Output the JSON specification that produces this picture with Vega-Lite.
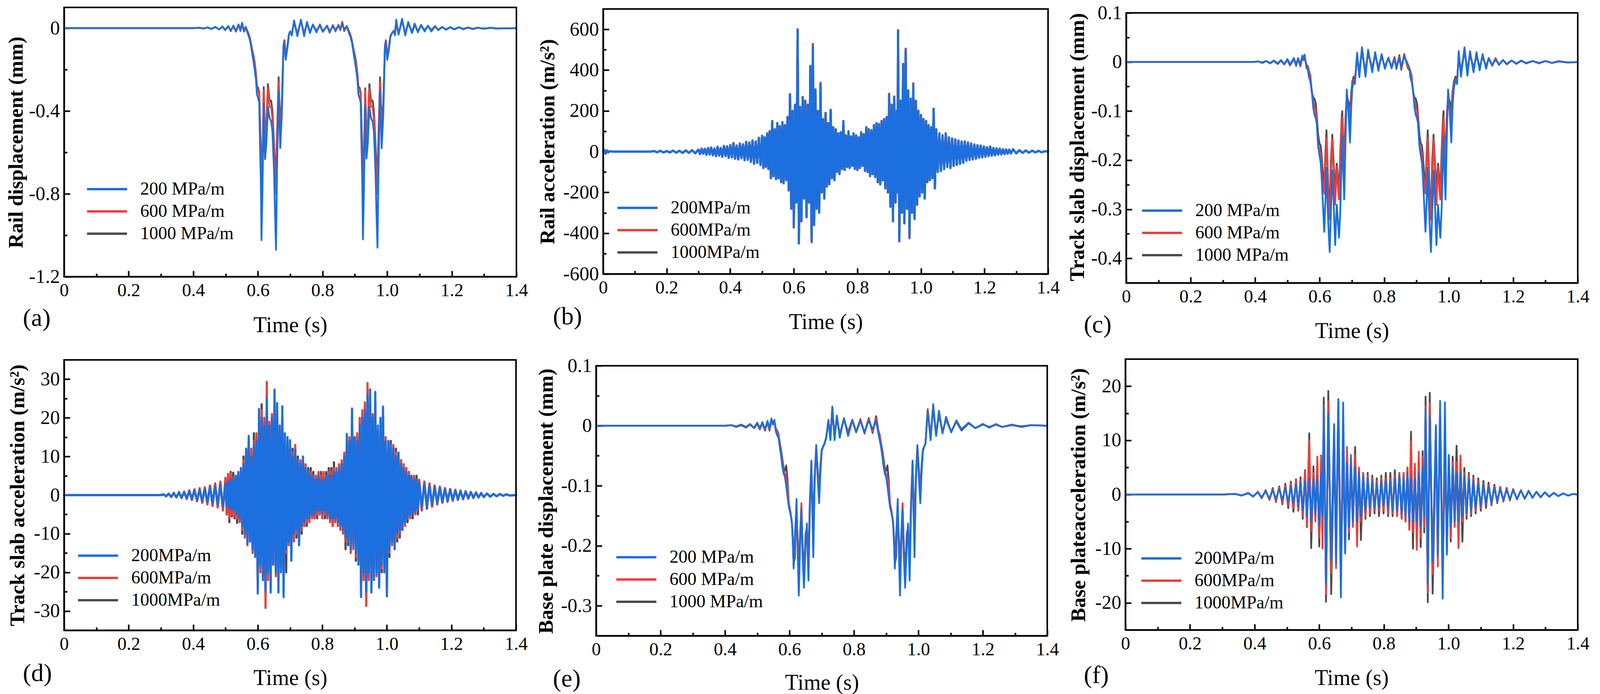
{
  "$schema": "https://vega.github.io/schema/vega-lite/v6.json",
  "width": 4255,
  "height": 1776,
  "autosize": {"type": "none"},
  "padding": 0,
  "background": "#ffffff",
  "config": {
    "view": {"stroke": null},
    "font": "Liberation Serif",
    "axis": {"labelFont": "Liberation Serif", "labelColor": "#000000", "titleFont": "Liberation Serif", "titleColor": "#000000", "domainColor": "#000000", "domainWidth": 4, "tickColor": "#000000", "tickWidth": 4, "grid": false, "labelFlush": false, "labelOverlap": false, "labelBound": false, "titleAlign": "center"},
    "axisX": {"labelFontSize": 47, "labelPadding": 27, "labelBaseline": "top", "labelAngle": 0, "titleFontSize": 56, "titleFontWeight": "normal", "titleBaseline": "alphabetic"},
    "axisY": {"labelFontSize": 50, "labelPadding": 26, "titleFontSize": 53, "titleFontWeight": "bold", "titleBaseline": "alphabetic", "titleAngle": -90},
    "legend": {"orient": "none", "padding": 0, "labelFont": "Liberation Serif", "labelFontSize": 46, "labelColor": "#000000", "labelLimit": 0, "symbolType": "M-5,0L5,0", "symbolSize": 420, "symbolStrokeWidth": 6, "rowPadding": 11, "labelOffset": 62}
  },
  "datasets": {
    "a": [
      {"t":0,"c200":0,"b600":0,"a1000":0},{"t":0.4,"c200":0,"b600":0,"a1000":0},{"t":0.42,"c200":0.002,"b600":0.002,"a1000":0.001},{"t":0.432,"c200":-0.002,"b600":-0.002,"a1000":-0.002},{"t":0.444,"c200":0.004,"b600":0.003,"a1000":0.003},{"t":0.456,"c200":-0.004,"b600":-0.004,"a1000":-0.004},{"t":0.468,"c200":0.006,"b600":0.005,"a1000":0.005},{"t":0.48,"c200":-0.006,"b600":-0.006,"a1000":-0.006},{"t":0.49,"c200":0.008,"b600":0.007,"a1000":0.007},{"t":0.499,"c200":-0.008,"b600":-0.009,"a1000":-0.009},{"t":0.508,"c200":0.01,"b600":0.01,"a1000":0.009},{"t":0.516,"c200":-0.012,"b600":-0.014,"a1000":-0.014},{"t":0.524,"c200":0.01,"b600":0.012,"a1000":0.012},{"t":0.532,"c200":-0.014,"b600":-0.016,"a1000":-0.017},{"t":0.54,"c200":0.018,"b600":0.016,"a1000":0.015},{"t":0.546,"c200":-0.006,"b600":-0.012,"a1000":-0.014},{"t":0.551,"c200":0.026,"b600":0.022,"a1000":0.02},{"t":0.557,"c200":-0.016,"b600":-0.016,"a1000":-0.016},{"t":0.562,"c200":0.004,"b600":0.006,"a1000":0.006},{"t":0.567,"c200":-0.02,"b600":-0.014,"a1000":-0.012},{"t":0.572,"c200":-0.04,"b600":-0.032,"a1000":-0.03},{"t":0.577,"c200":-0.07,"b600":-0.062,"a1000":-0.06},{"t":0.581,"c200":-0.11,"b600":-0.1,"a1000":-0.095},{"t":0.586,"c200":-0.16,"b600":-0.14,"a1000":-0.13},{"t":0.59,"c200":-0.2,"b600":-0.175,"a1000":-0.165},{"t":0.594,"c200":-0.25,"b600":-0.23,"a1000":-0.22},{"t":0.597,"c200":-0.32,"b600":-0.29,"a1000":-0.28},{"t":0.601,"c200":-0.34,"b600":-0.3,"a1000":-0.29},{"t":0.604,"c200":-0.36,"b600":-0.32,"a1000":-0.31},{"t":0.606,"c200":-0.53,"b600":-0.45,"a1000":-0.42},{"t":0.609,"c200":-0.74,"b600":-0.62,"a1000":-0.57},{"t":0.611,"c200":-1.024,"b600":-0.87,"a1000":-0.8},{"t":0.614,"c200":-0.79,"b600":-0.7,"a1000":-0.65},{"t":0.618,"c200":-0.366,"b600":-0.3,"a1000":-0.285},{"t":0.622,"c200":-0.633,"b600":-0.56,"a1000":-0.54},{"t":0.626,"c200":-0.56,"b600":-0.48,"a1000":-0.46},{"t":0.631,"c200":-0.381,"b600":-0.29,"a1000":-0.27},{"t":0.636,"c200":-0.435,"b600":-0.38,"a1000":-0.35},{"t":0.641,"c200":-0.45,"b600":-0.38,"a1000":-0.35},{"t":0.645,"c200":-0.5,"b600":-0.44,"a1000":-0.4},{"t":0.65,"c200":-0.7,"b600":-0.6,"a1000":-0.56},{"t":0.653,"c200":-0.9,"b600":-0.72,"a1000":-0.66},{"t":0.656,"c200":-1.07,"b600":-0.8,"a1000":-0.73},{"t":0.659,"c200":-0.7,"b600":-0.56,"a1000":-0.52},{"t":0.664,"c200":-0.305,"b600":-0.26,"a1000":-0.237},{"t":0.669,"c200":-0.579,"b600":-0.5,"a1000":-0.47},{"t":0.674,"c200":-0.42,"b600":-0.38,"a1000":-0.36},{"t":0.679,"c200":-0.1,"b600":-0.09,"a1000":-0.085},{"t":0.682,"c200":-0.066,"b600":-0.06,"a1000":-0.058},{"t":0.686,"c200":-0.153,"b600":-0.14,"a1000":-0.135},{"t":0.691,"c200":-0.1,"b600":-0.09,"a1000":-0.09},{"t":0.696,"c200":-0.031,"b600":-0.03,"a1000":-0.028},{"t":0.7,"c200":-0.016,"b600":-0.018,"a1000":-0.02},{"t":0.705,"c200":-0.035,"b600":-0.03,"a1000":-0.028},{"t":0.712,"c200":0.037,"b600":0.032,"a1000":0.03},{"t":0.722,"c200":-0.039,"b600":-0.03,"a1000":-0.028},{"t":0.733,"c200":0.041,"b600":0.036,"a1000":0.034},{"t":0.743,"c200":-0.039,"b600":-0.028,"a1000":-0.026},{"t":0.752,"c200":0.03,"b600":0.026,"a1000":0.025},{"t":0.761,"c200":-0.024,"b600":-0.02,"a1000":-0.018},{"t":0.77,"c200":0.018,"b600":0.016,"a1000":0.014},{"t":0.781,"c200":-0.02,"b600":-0.014,"a1000":-0.012},{"t":0.792,"c200":0.018,"b600":0.014,"a1000":0.013},{"t":0.801,"c200":-0.016,"b600":-0.016,"a1000":-0.018},{"t":0.814,"c200":0.01,"b600":0.012,"a1000":0.012},{"t":0.822,"c200":-0.016,"b600":-0.02,"a1000":-0.022},{"t":0.832,"c200":0.01,"b600":0.014,"a1000":0.015},{"t":0.84,"c200":-0.008,"b600":-0.014,"a1000":-0.016},{"t":0.849,"c200":0.008,"b600":0.014,"a1000":0.016},{"t":0.855,"c200":-0.001,"b600":-0.008,"a1000":-0.01},{"t":0.861,"c200":0.022,"b600":0.026,"a1000":0.03},{"t":0.867,"c200":-0.005,"b600":-0.01,"a1000":-0.014},{"t":0.875,"c200":0.008,"b600":0.01,"a1000":0.01},{"t":0.881,"c200":-0.02,"b600":-0.014,"a1000":-0.012},{"t":0.886,"c200":-0.04,"b600":-0.032,"a1000":-0.03},{"t":0.891,"c200":-0.07,"b600":-0.062,"a1000":-0.06},{"t":0.895,"c200":-0.11,"b600":-0.1,"a1000":-0.095},{"t":0.9,"c200":-0.16,"b600":-0.14,"a1000":-0.13},{"t":0.904,"c200":-0.2,"b600":-0.175,"a1000":-0.165},{"t":0.908,"c200":-0.25,"b600":-0.23,"a1000":-0.22},{"t":0.911,"c200":-0.32,"b600":-0.29,"a1000":-0.28},{"t":0.915,"c200":-0.34,"b600":-0.3,"a1000":-0.29},{"t":0.918,"c200":-0.36,"b600":-0.32,"a1000":-0.31},{"t":0.92,"c200":-0.53,"b600":-0.45,"a1000":-0.42},{"t":0.923,"c200":-0.74,"b600":-0.62,"a1000":-0.57},{"t":0.925,"c200":-1.02,"b600":-0.86,"a1000":-0.8},{"t":0.928,"c200":-0.79,"b600":-0.7,"a1000":-0.65},{"t":0.932,"c200":-0.37,"b600":-0.3,"a1000":-0.29},{"t":0.936,"c200":-0.63,"b600":-0.56,"a1000":-0.54},{"t":0.94,"c200":-0.56,"b600":-0.48,"a1000":-0.46},{"t":0.945,"c200":-0.38,"b600":-0.29,"a1000":-0.27},{"t":0.95,"c200":-0.435,"b600":-0.38,"a1000":-0.35},{"t":0.955,"c200":-0.45,"b600":-0.38,"a1000":-0.35},{"t":0.959,"c200":-0.5,"b600":-0.44,"a1000":-0.4},{"t":0.964,"c200":-0.7,"b600":-0.6,"a1000":-0.56},{"t":0.967,"c200":-0.9,"b600":-0.72,"a1000":-0.66},{"t":0.97,"c200":-1.06,"b600":-0.8,"a1000":-0.73},{"t":0.973,"c200":-0.7,"b600":-0.56,"a1000":-0.52},{"t":0.978,"c200":-0.3,"b600":-0.26,"a1000":-0.237},{"t":0.983,"c200":-0.58,"b600":-0.5,"a1000":-0.47},{"t":0.988,"c200":-0.42,"b600":-0.38,"a1000":-0.36},{"t":0.993,"c200":-0.1,"b600":-0.09,"a1000":-0.085},{"t":0.996,"c200":-0.066,"b600":-0.06,"a1000":-0.058},{"t":1,"c200":-0.153,"b600":-0.14,"a1000":-0.135},{"t":1.005,"c200":-0.11,"b600":-0.1,"a1000":-0.095},{"t":1.01,"c200":-0.04,"b600":-0.04,"a1000":-0.038},{"t":1.016,"c200":-0.02,"b600":-0.022,"a1000":-0.022},{"t":1.021,"c200":-0.016,"b600":-0.014,"a1000":-0.012},{"t":1.024,"c200":-0.035,"b600":-0.03,"a1000":-0.03},{"t":1.028,"c200":0.041,"b600":0.036,"a1000":0.034},{"t":1.035,"c200":-0.031,"b600":-0.03,"a1000":-0.03},{"t":1.046,"c200":0.045,"b600":0.04,"a1000":0.036},{"t":1.056,"c200":-0.035,"b600":-0.028,"a1000":-0.03},{"t":1.065,"c200":0.03,"b600":0.026,"a1000":0.024},{"t":1.077,"c200":-0.024,"b600":-0.018,"a1000":-0.02},{"t":1.085,"c200":0.022,"b600":0.018,"a1000":0.016},{"t":1.095,"c200":-0.02,"b600":-0.014,"a1000":-0.016},{"t":1.105,"c200":0.016,"b600":0.012,"a1000":0.012},{"t":1.116,"c200":-0.016,"b600":-0.012,"a1000":-0.01},{"t":1.126,"c200":0.012,"b600":0.01,"a1000":0.01},{"t":1.137,"c200":-0.016,"b600":-0.01,"a1000":-0.008},{"t":1.148,"c200":0.008,"b600":0.01,"a1000":0.01},{"t":1.158,"c200":-0.008,"b600":-0.01,"a1000":-0.01},{"t":1.17,"c200":0.006,"b600":0.006,"a1000":0.005},{"t":1.182,"c200":-0.008,"b600":-0.006,"a1000":-0.006},{"t":1.195,"c200":0.005,"b600":0.004,"a1000":0.004},{"t":1.208,"c200":-0.006,"b600":-0.006,"a1000":-0.005},{"t":1.222,"c200":0.004,"b600":0.004,"a1000":0.004},{"t":1.236,"c200":-0.004,"b600":-0.006,"a1000":-0.004},{"t":1.25,"c200":0.003,"b600":0.002,"a1000":0.003},{"t":1.265,"c200":-0.004,"b600":-0.005,"a1000":-0.003},{"t":1.28,"c200":0.002,"b600":0.002,"a1000":0.002},{"t":1.3,"c200":-0.003,"b600":-0.003,"a1000":-0.002},{"t":1.32,"c200":0.002,"b600":0.001,"a1000":0.002},{"t":1.34,"c200":-0.002,"b600":-0.002,"a1000":-0.002},{"t":1.4,"c200":0,"b600":0,"a1000":0}
    ],
    "b": [
      {"t":0,"c200":0,"b600":0,"a1000":0},{"t":0.004,"c200":8,"b600":8,"a1000":8},{"t":0.008,"c200":-10,"b600":-10,"a1000":-10},{"t":0.012,"c200":6,"b600":6,"a1000":6},{"t":0.016,"c200":-4,"b600":-4,"a1000":-4},{"t":0.02,"c200":2,"b600":2,"a1000":2},{"t":0.03,"c200":0,"b600":0,"a1000":0},{"t":0.15,"c200":0,"b600":0,"a1000":0},
      {"t":0.16,"c200":3,"b600":3,"a1000":3},{"t":0.17,"c200":-3,"b600":-3,"a1000":-3},{"t":0.18,"c200":4,"b600":4,"a1000":4},{"t":0.19,"c200":-4,"b600":-4,"a1000":-4},{"t":0.2,"c200":3,"b600":3,"a1000":3},{"t":0.21,"c200":-4,"b600":-4,"a1000":-4},{"t":0.22,"c200":5,"b600":5,"a1000":5},{"t":0.23,"c200":-5,"b600":-5,"a1000":-5},{"t":0.24,"c200":4,"b600":4,"a1000":4},{"t":0.25,"c200":-6,"b600":-6,"a1000":-6},{"t":0.26,"c200":6,"b600":6,"a1000":6},{"t":0.27,"c200":-6,"b600":-6,"a1000":-6},{"t":0.28,"c200":7,"b600":7,"a1000":7},{"t":0.29,"c200":-8,"b600":-8,"a1000":-8},{"t":0.3,"c200":10,"b600":10,"a1000":10},
      {"t":0.305,"c200":-12,"b600":-12,"a1000":-12},{"t":0.31,"c200":15,"b600":15,"a1000":15},{"t":0.315,"c200":-10,"b600":-10,"a1000":-10},{"t":0.32,"c200":14,"b600":14,"a1000":14},{"t":0.325,"c200":-16,"b600":-16,"a1000":-16},{"t":0.33,"c200":18,"b600":18,"a1000":18},{"t":0.335,"c200":-14,"b600":-14,"a1000":-14},{"t":0.34,"c200":20,"b600":20,"a1000":20},{"t":0.345,"c200":-18,"b600":-18,"a1000":-18},{"t":0.35,"c200":15,"b600":15,"a1000":15},{"t":0.355,"c200":-22,"b600":-22,"a1000":-22},{"t":0.36,"c200":24,"b600":24,"a1000":24},{"t":0.365,"c200":-20,"b600":-20,"a1000":-20},{"t":0.37,"c200":18,"b600":18,"a1000":18},{"t":0.375,"c200":-25,"b600":-25,"a1000":-25},{"t":0.38,"c200":28,"b600":28,"a1000":28},{"t":0.385,"c200":-22,"b600":-22,"a1000":-22},{"t":0.39,"c200":26,"b600":26,"a1000":26},{"t":0.395,"c200":-30,"b600":-30,"a1000":-30},{"t":0.4,"c200":32,"b600":32,"a1000":32},{"t":0.405,"c200":-28,"b600":-28,"a1000":-28},{"t":0.41,"c200":42,"b600":42,"a1000":42},{"t":0.415,"c200":-35,"b600":-35,"a1000":-35},{"t":0.42,"c200":30,"b600":30,"a1000":30},{"t":0.425,"c200":-38,"b600":-38,"a1000":-38},{"t":0.43,"c200":40,"b600":40,"a1000":40},{"t":0.435,"c200":-32,"b600":-32,"a1000":-32},{"t":0.44,"c200":36,"b600":36,"a1000":36},{"t":0.445,"c200":-42,"b600":-42,"a1000":-42},{"t":0.45,"c200":48,"b600":48,"a1000":48},{"t":0.455,"c200":-40,"b600":-40,"a1000":-40},{"t":0.46,"c200":45,"b600":45,"a1000":45},{"t":0.465,"c200":-50,"b600":-50,"a1000":-50},{"t":0.47,"c200":55,"b600":55,"a1000":55},{"t":0.475,"c200":-60,"b600":-60,"a1000":-60},{"t":0.48,"c200":50,"b600":50,"a1000":50},{"t":0.485,"c200":-55,"b600":-55,"a1000":-55},{"t":0.49,"c200":68,"b600":68,"a1000":68},{"t":0.495,"c200":-65,"b600":-65,"a1000":-65},{"t":0.5,"c200":78,"b600":78,"a1000":78},
      {"t":0.504,"c200":-80,"b600":-80,"a1000":-80},{"t":0.508,"c200":70,"b600":70,"a1000":70},{"t":0.512,"c200":-75,"b600":-75,"a1000":-75},{"t":0.516,"c200":90,"b600":90,"a1000":90},{"t":0.52,"c200":-85,"b600":-85,"a1000":-85},{"t":0.524,"c200":100,"b600":100,"a1000":100},{"t":0.528,"c200":-130,"b600":-130,"a1000":-130},{"t":0.532,"c200":150,"b600":150,"a1000":150},{"t":0.536,"c200":-120,"b600":-120,"a1000":-120},{"t":0.54,"c200":110,"b600":110,"a1000":110},{"t":0.544,"c200":-135,"b600":-135,"a1000":-135},{"t":0.548,"c200":140,"b600":140,"a1000":140},{"t":0.552,"c200":-130,"b600":-130,"a1000":-130},{"t":0.556,"c200":125,"b600":125,"a1000":125},{"t":0.56,"c200":-150,"b600":-150,"a1000":-150},{"t":0.564,"c200":145,"b600":145,"a1000":145},{"t":0.568,"c200":-155,"b600":-155,"a1000":-155},{"t":0.572,"c200":130,"b600":130,"a1000":130},{"t":0.576,"c200":-140,"b600":-140,"a1000":-140},{"t":0.58,"c200":170,"b600":170,"a1000":170},{"t":0.584,"c200":-190,"b600":-190,"a1000":-190},{"t":0.588,"c200":280,"b600":282,"a1000":282},{"t":0.592,"c200":-280,"b600":-280,"a1000":-280},{"t":0.596,"c200":200,"b600":200,"a1000":200},{"t":0.6,"c200":-370,"b600":-372,"a1000":-372},{"t":0.604,"c200":230,"b600":230,"a1000":230},{"t":0.608,"c200":-250,"b600":-250,"a1000":-250},{"t":0.612,"c200":600,"b600":600,"a1000":600},{"t":0.616,"c200":-450,"b600":-450,"a1000":-450},{"t":0.62,"c200":220,"b600":220,"a1000":220},{"t":0.624,"c200":-340,"b600":-342,"a1000":-342},{"t":0.628,"c200":265,"b600":268,"a1000":268},{"t":0.632,"c200":-230,"b600":-230,"a1000":-230},{"t":0.636,"c200":250,"b600":250,"a1000":250},{"t":0.64,"c200":-320,"b600":-322,"a1000":-322},{"t":0.644,"c200":230,"b600":230,"a1000":230},{"t":0.648,"c200":-250,"b600":-250,"a1000":-250},{"t":0.652,"c200":420,"b600":420,"a1000":420},{"t":0.656,"c200":-440,"b600":-444,"a1000":-444},{"t":0.66,"c200":515,"b600":525,"a1000":528},{"t":0.664,"c200":-360,"b600":-360,"a1000":-360},{"t":0.668,"c200":305,"b600":305,"a1000":305},{"t":0.672,"c200":-280,"b600":-280,"a1000":-280},{"t":0.676,"c200":200,"b600":200,"a1000":200},{"t":0.68,"c200":-300,"b600":-300,"a1000":-300},{"t":0.684,"c200":330,"b600":338,"a1000":336},{"t":0.688,"c200":-200,"b600":-200,"a1000":-200},{"t":0.692,"c200":160,"b600":160,"a1000":160},{"t":0.696,"c200":-230,"b600":-230,"a1000":-230},{"t":0.7,"c200":190,"b600":190,"a1000":190},{"t":0.704,"c200":-170,"b600":-172,"a1000":-172},{"t":0.708,"c200":140,"b600":140,"a1000":140},{"t":0.712,"c200":-160,"b600":-160,"a1000":-160},{"t":0.716,"c200":205,"b600":205,"a1000":205},{"t":0.72,"c200":-130,"b600":-130,"a1000":-130},{"t":0.724,"c200":120,"b600":120,"a1000":120},{"t":0.728,"c200":-140,"b600":-140,"a1000":-140},{"t":0.732,"c200":110,"b600":110,"a1000":110},{"t":0.736,"c200":-100,"b600":-100,"a1000":-100},{"t":0.74,"c200":90,"b600":90,"a1000":90},{"t":0.744,"c200":-110,"b600":-110,"a1000":-110},{"t":0.748,"c200":95,"b600":95,"a1000":95},{"t":0.752,"c200":-85,"b600":-85,"a1000":-85},{"t":0.756,"c200":150,"b600":150,"a1000":150},{"t":0.76,"c200":-90,"b600":-90,"a1000":-90},{"t":0.764,"c200":80,"b600":80,"a1000":80},{"t":0.768,"c200":-75,"b600":-75,"a1000":-75},{"t":0.772,"c200":100,"b600":100,"a1000":100},{"t":0.776,"c200":-80,"b600":-80,"a1000":-80},{"t":0.78,"c200":75,"b600":75,"a1000":75},{"t":0.784,"c200":-70,"b600":-70,"a1000":-70},{"t":0.788,"c200":90,"b600":90,"a1000":90},{"t":0.792,"c200":-85,"b600":-85,"a1000":-85},{"t":0.796,"c200":80,"b600":80,"a1000":80},{"t":0.8,"c200":-90,"b600":-90,"a1000":-90},{"t":0.804,"c200":70,"b600":70,"a1000":70},{"t":0.808,"c200":-80,"b600":-80,"a1000":-80},{"t":0.812,"c200":95,"b600":95,"a1000":95},{"t":0.816,"c200":-70,"b600":-70,"a1000":-70},{"t":0.82,"c200":85,"b600":85,"a1000":85},{"t":0.824,"c200":-95,"b600":-95,"a1000":-95},{"t":0.828,"c200":120,"b600":120,"a1000":120},{"t":0.832,"c200":-100,"b600":-100,"a1000":-100},{"t":0.836,"c200":110,"b600":110,"a1000":110},{"t":0.84,"c200":-120,"b600":-120,"a1000":-120},{"t":0.844,"c200":105,"b600":105,"a1000":105},{"t":0.848,"c200":-110,"b600":-110,"a1000":-110},{"t":0.852,"c200":130,"b600":130,"a1000":130},{"t":0.856,"c200":-125,"b600":-125,"a1000":-125},{"t":0.86,"c200":140,"b600":140,"a1000":140},{"t":0.864,"c200":-150,"b600":-150,"a1000":-150},{"t":0.868,"c200":135,"b600":135,"a1000":135},{"t":0.872,"c200":-160,"b600":-160,"a1000":-160},{"t":0.876,"c200":150,"b600":150,"a1000":150},{"t":0.88,"c200":-140,"b600":-140,"a1000":-140},{"t":0.884,"c200":160,"b600":160,"a1000":160},{"t":0.888,"c200":-180,"b600":-180,"a1000":-180},{"t":0.892,"c200":170,"b600":170,"a1000":170},{"t":0.896,"c200":-200,"b600":-200,"a1000":-200},{"t":0.9,"c200":280,"b600":284,"a1000":284},{"t":0.904,"c200":-270,"b600":-270,"a1000":-270},{"t":0.908,"c200":230,"b600":230,"a1000":230},{"t":0.912,"c200":-340,"b600":-342,"a1000":-342},{"t":0.916,"c200":270,"b600":270,"a1000":270},{"t":0.92,"c200":-250,"b600":-250,"a1000":-250},{"t":0.924,"c200":200,"b600":200,"a1000":200},{"t":0.926,"c200":-200,"b600":-200,"a1000":-200},{"t":0.928,"c200":595,"b600":595,"a1000":595},{"t":0.932,"c200":-440,"b600":-440,"a1000":-440},{"t":0.936,"c200":250,"b600":250,"a1000":250},{"t":0.94,"c200":-300,"b600":-300,"a1000":-300},{"t":0.944,"c200":430,"b600":430,"a1000":430},{"t":0.948,"c200":-350,"b600":-352,"a1000":-352},{"t":0.952,"c200":495,"b600":505,"a1000":505},{"t":0.956,"c200":-280,"b600":-280,"a1000":-280},{"t":0.96,"c200":300,"b600":300,"a1000":300},{"t":0.964,"c200":-418,"b600":-425,"a1000":-425},{"t":0.968,"c200":260,"b600":260,"a1000":260},{"t":0.972,"c200":-300,"b600":-300,"a1000":-300},{"t":0.976,"c200":328,"b600":335,"a1000":335},{"t":0.98,"c200":-330,"b600":-330,"a1000":-330},{"t":0.984,"c200":250,"b600":250,"a1000":250},{"t":0.988,"c200":-260,"b600":-260,"a1000":-260},{"t":0.992,"c200":200,"b600":200,"a1000":200},{"t":0.996,"c200":-220,"b600":-220,"a1000":-220},{"t":1,"c200":180,"b600":180,"a1000":180},{"t":1.004,"c200":-200,"b600":-200,"a1000":-200},{"t":1.008,"c200":160,"b600":160,"a1000":160},{"t":1.012,"c200":-230,"b600":-230,"a1000":-230},{"t":1.016,"c200":150,"b600":150,"a1000":150},{"t":1.02,"c200":-150,"b600":-150,"a1000":-150},{"t":1.024,"c200":130,"b600":130,"a1000":130},{"t":1.028,"c200":-140,"b600":-140,"a1000":-140},{"t":1.032,"c200":120,"b600":120,"a1000":120},{"t":1.036,"c200":-130,"b600":-130,"a1000":-130},{"t":1.04,"c200":210,"b600":210,"a1000":210},{"t":1.044,"c200":-180,"b600":-180,"a1000":-180},{"t":1.048,"c200":110,"b600":110,"a1000":110},
      {"t":1.053,"c200":-100,"b600":-100,"a1000":-100},{"t":1.058,"c200":90,"b600":90,"a1000":90},{"t":1.063,"c200":-95,"b600":-95,"a1000":-95},{"t":1.068,"c200":80,"b600":80,"a1000":80},{"t":1.073,"c200":-85,"b600":-85,"a1000":-85},{"t":1.078,"c200":90,"b600":90,"a1000":90},{"t":1.083,"c200":-75,"b600":-75,"a1000":-75},{"t":1.088,"c200":70,"b600":70,"a1000":70},{"t":1.093,"c200":-80,"b600":-80,"a1000":-80},{"t":1.098,"c200":65,"b600":65,"a1000":65},{"t":1.103,"c200":-70,"b600":-70,"a1000":-70},{"t":1.108,"c200":60,"b600":60,"a1000":60},{"t":1.113,"c200":-65,"b600":-65,"a1000":-65},{"t":1.118,"c200":55,"b600":55,"a1000":55},{"t":1.123,"c200":-60,"b600":-60,"a1000":-60},{"t":1.128,"c200":50,"b600":50,"a1000":50},{"t":1.133,"c200":-55,"b600":-55,"a1000":-55},{"t":1.138,"c200":50,"b600":50,"a1000":50},{"t":1.143,"c200":-45,"b600":-45,"a1000":-45},{"t":1.148,"c200":45,"b600":45,"a1000":45},{"t":1.153,"c200":-40,"b600":-40,"a1000":-40},{"t":1.158,"c200":40,"b600":40,"a1000":40},{"t":1.163,"c200":-38,"b600":-38,"a1000":-38},{"t":1.168,"c200":35,"b600":35,"a1000":35},{"t":1.173,"c200":-35,"b600":-35,"a1000":-35},{"t":1.178,"c200":32,"b600":32,"a1000":32},{"t":1.183,"c200":-30,"b600":-30,"a1000":-30},{"t":1.188,"c200":30,"b600":30,"a1000":30},{"t":1.193,"c200":-28,"b600":-28,"a1000":-28},{"t":1.198,"c200":25,"b600":25,"a1000":25},{"t":1.203,"c200":-25,"b600":-25,"a1000":-25},{"t":1.208,"c200":22,"b600":22,"a1000":22},{"t":1.213,"c200":-22,"b600":-22,"a1000":-22},{"t":1.218,"c200":25,"b600":25,"a1000":25},{"t":1.223,"c200":-20,"b600":-20,"a1000":-20},{"t":1.228,"c200":18,"b600":18,"a1000":18},{"t":1.233,"c200":-18,"b600":-18,"a1000":-18},{"t":1.238,"c200":16,"b600":16,"a1000":16},{"t":1.243,"c200":-15,"b600":-15,"a1000":-15},{"t":1.248,"c200":15,"b600":15,"a1000":15},{"t":1.253,"c200":-14,"b600":-14,"a1000":-14},{"t":1.258,"c200":12,"b600":12,"a1000":12},{"t":1.263,"c200":-12,"b600":-12,"a1000":-12},{"t":1.268,"c200":11,"b600":11,"a1000":11},{"t":1.273,"c200":-10,"b600":-10,"a1000":-10},{"t":1.278,"c200":10,"b600":10,"a1000":10},{"t":1.283,"c200":-9,"b600":-9,"a1000":-9},{"t":1.29,"c200":12,"b600":12,"a1000":12},{"t":1.3,"c200":-8,"b600":-8,"a1000":-8},{"t":1.31,"c200":7,"b600":7,"a1000":7},{"t":1.32,"c200":-6,"b600":-6,"a1000":-6},{"t":1.33,"c200":6,"b600":6,"a1000":6},{"t":1.34,"c200":-5,"b600":-5,"a1000":-5},{"t":1.35,"c200":5,"b600":5,"a1000":5},{"t":1.36,"c200":-4,"b600":-4,"a1000":-4},{"t":1.37,"c200":4,"b600":4,"a1000":4},{"t":1.38,"c200":-3,"b600":-3,"a1000":-3},{"t":1.39,"c200":2,"b600":2,"a1000":2},{"t":1.4,"c200":0,"b600":0,"a1000":0}
    ],
    "c": [
      {"t":0,"c200":0,"b600":0,"a1000":0},{"t":0.39,"c200":0,"b600":0,"a1000":0},{"t":0.41,"c200":0.001,"b600":0.001,"a1000":0.001},{"t":0.422,"c200":-0.001,"b600":-0.001,"a1000":-0.002},{"t":0.434,"c200":0.002,"b600":0.002,"a1000":0.002},{"t":0.446,"c200":-0.002,"b600":-0.002,"a1000":-0.003},{"t":0.458,"c200":0.003,"b600":0.002,"a1000":0.002},{"t":0.47,"c200":-0.003,"b600":-0.003,"a1000":-0.004},{"t":0.48,"c200":0.004,"b600":0.003,"a1000":0.003},{"t":0.49,"c200":-0.004,"b600":-0.005,"a1000":-0.005},{"t":0.5,"c200":0.006,"b600":0.005,"a1000":0.004},{"t":0.508,"c200":-0.005,"b600":-0.006,"a1000":-0.007},{"t":0.52,"c200":0.008,"b600":0.007,"a1000":0.006},{"t":0.527,"c200":-0.006,"b600":-0.007,"a1000":-0.008},{"t":0.533,"c200":0.008,"b600":0.008,"a1000":0.007},{"t":0.54,"c200":-0.006,"b600":-0.008,"a1000":-0.009},{"t":0.546,"c200":0.013,"b600":0.011,"a1000":0.01},{"t":0.55,"c200":0.005,"b600":0.006,"a1000":0.004},{"t":0.553,"c200":0.015,"b600":0.012,"a1000":0.011},{"t":0.559,"c200":-0.012,"b600":-0.008,"a1000":-0.006},{"t":0.563,"c200":-0.016,"b600":-0.01,"a1000":-0.008},{"t":0.567,"c200":-0.031,"b600":-0.02,"a1000":-0.018},{"t":0.571,"c200":-0.04,"b600":-0.03,"a1000":-0.028},{"t":0.574,"c200":-0.053,"b600":-0.05,"a1000":-0.05},{"t":0.577,"c200":-0.07,"b600":-0.068,"a1000":-0.065},{"t":0.58,"c200":-0.093,"b600":-0.08,"a1000":-0.072},{"t":0.584,"c200":-0.108,"b600":-0.09,"a1000":-0.075},{"t":0.588,"c200":-0.115,"b600":-0.1,"a1000":-0.085},{"t":0.591,"c200":-0.126,"b600":-0.125,"a1000":-0.11},{"t":0.595,"c200":-0.171,"b600":-0.165,"a1000":-0.146},{"t":0.599,"c200":-0.188,"b600":-0.18,"a1000":-0.165},{"t":0.603,"c200":-0.205,"b600":-0.185,"a1000":-0.17},{"t":0.606,"c200":-0.235,"b600":-0.22,"a1000":-0.19},{"t":0.61,"c200":-0.29,"b600":-0.25,"a1000":-0.23},{"t":0.614,"c200":-0.346,"b600":-0.268,"a1000":-0.25},{"t":0.618,"c200":-0.277,"b600":-0.2,"a1000":-0.18},{"t":0.621,"c200":-0.215,"b600":-0.154,"a1000":-0.139},{"t":0.625,"c200":-0.3,"b600":-0.24,"a1000":-0.22},{"t":0.628,"c200":-0.349,"b600":-0.3,"a1000":-0.28},{"t":0.631,"c200":-0.387,"b600":-0.321,"a1000":-0.3},{"t":0.635,"c200":-0.3,"b600":-0.23,"a1000":-0.2},{"t":0.639,"c200":-0.221,"b600":-0.157,"a1000":-0.148},{"t":0.643,"c200":-0.28,"b600":-0.22,"a1000":-0.2},{"t":0.646,"c200":-0.34,"b600":-0.27,"a1000":-0.25},{"t":0.648,"c200":-0.373,"b600":-0.291,"a1000":-0.27},{"t":0.651,"c200":-0.32,"b600":-0.24,"a1000":-0.22},{"t":0.653,"c200":-0.291,"b600":-0.213,"a1000":-0.207},{"t":0.657,"c200":-0.33,"b600":-0.26,"a1000":-0.24},{"t":0.66,"c200":-0.358,"b600":-0.28,"a1000":-0.26},{"t":0.664,"c200":-0.3,"b600":-0.2,"a1000":-0.18},{"t":0.668,"c200":-0.2,"b600":-0.13,"a1000":-0.115},{"t":0.67,"c200":-0.151,"b600":-0.112,"a1000":-0.1},{"t":0.673,"c200":-0.22,"b600":-0.17,"a1000":-0.16},{"t":0.676,"c200":-0.28,"b600":-0.22,"a1000":-0.2},{"t":0.68,"c200":-0.16,"b600":-0.12,"a1000":-0.11},{"t":0.684,"c200":-0.056,"b600":-0.07,"a1000":-0.07},{"t":0.689,"c200":-0.1,"b600":-0.09,"a1000":-0.08},{"t":0.694,"c200":-0.164,"b600":-0.12,"a1000":-0.1},{"t":0.698,"c200":-0.09,"b600":-0.07,"a1000":-0.06},{"t":0.701,"c200":-0.053,"b600":-0.045,"a1000":-0.04},{"t":0.705,"c200":-0.04,"b600":-0.035,"a1000":-0.03},{"t":0.709,"c200":-0.045,"b600":-0.04,"a1000":-0.035},{"t":0.716,"c200":0.019,"b600":0.01,"a1000":0.005},{"t":0.723,"c200":-0.031,"b600":-0.02,"a1000":-0.015},{"t":0.731,"c200":0.03,"b600":0.025,"a1000":0.02},{"t":0.742,"c200":-0.03,"b600":-0.02,"a1000":-0.018},{"t":0.75,"c200":0.025,"b600":0.02,"a1000":0.018},{"t":0.763,"c200":-0.021,"b600":-0.015,"a1000":-0.012},{"t":0.772,"c200":0.02,"b600":0.016,"a1000":0.014},{"t":0.782,"c200":-0.018,"b600":-0.012,"a1000":-0.012},{"t":0.792,"c200":0.016,"b600":0.014,"a1000":0.012},{"t":0.802,"c200":-0.014,"b600":-0.01,"a1000":-0.01},{"t":0.813,"c200":0.009,"b600":0.008,"a1000":0.008},{"t":0.823,"c200":-0.013,"b600":-0.01,"a1000":-0.012},{"t":0.832,"c200":0.008,"b600":0.01,"a1000":0.01},{"t":0.838,"c200":-0.012,"b600":-0.012,"a1000":-0.014},{"t":0.847,"c200":0.008,"b600":0.012,"a1000":0.014},{"t":0.853,"c200":-0.011,"b600":-0.014,"a1000":-0.016},{"t":0.862,"c200":0.012,"b600":0.014,"a1000":0.016},{"t":0.873,"c200":-0.004,"b600":-0.01,"a1000":-0.012},{"t":0.879,"c200":-0.014,"b600":-0.016,"a1000":-0.018},{"t":0.881,"c200":-0.031,"b600":-0.02,"a1000":-0.018},{"t":0.885,"c200":-0.04,"b600":-0.03,"a1000":-0.028},{"t":0.888,"c200":-0.053,"b600":-0.05,"a1000":-0.05},{"t":0.891,"c200":-0.07,"b600":-0.068,"a1000":-0.065},{"t":0.894,"c200":-0.093,"b600":-0.08,"a1000":-0.072},{"t":0.898,"c200":-0.108,"b600":-0.09,"a1000":-0.075},{"t":0.902,"c200":-0.115,"b600":-0.1,"a1000":-0.085},{"t":0.905,"c200":-0.126,"b600":-0.125,"a1000":-0.11},{"t":0.909,"c200":-0.171,"b600":-0.165,"a1000":-0.146},{"t":0.913,"c200":-0.188,"b600":-0.18,"a1000":-0.165},{"t":0.917,"c200":-0.205,"b600":-0.185,"a1000":-0.17},{"t":0.92,"c200":-0.235,"b600":-0.22,"a1000":-0.19},{"t":0.924,"c200":-0.29,"b600":-0.25,"a1000":-0.23},{"t":0.928,"c200":-0.346,"b600":-0.268,"a1000":-0.25},{"t":0.932,"c200":-0.277,"b600":-0.2,"a1000":-0.18},{"t":0.935,"c200":-0.215,"b600":-0.154,"a1000":-0.139},{"t":0.939,"c200":-0.3,"b600":-0.24,"a1000":-0.22},{"t":0.942,"c200":-0.349,"b600":-0.3,"a1000":-0.28},{"t":0.945,"c200":-0.387,"b600":-0.321,"a1000":-0.3},{"t":0.949,"c200":-0.3,"b600":-0.23,"a1000":-0.2},{"t":0.953,"c200":-0.221,"b600":-0.157,"a1000":-0.148},{"t":0.957,"c200":-0.28,"b600":-0.22,"a1000":-0.2},{"t":0.96,"c200":-0.34,"b600":-0.27,"a1000":-0.25},{"t":0.962,"c200":-0.373,"b600":-0.291,"a1000":-0.27},{"t":0.965,"c200":-0.32,"b600":-0.24,"a1000":-0.22},{"t":0.967,"c200":-0.291,"b600":-0.213,"a1000":-0.207},{"t":0.971,"c200":-0.33,"b600":-0.26,"a1000":-0.24},{"t":0.974,"c200":-0.358,"b600":-0.28,"a1000":-0.26},{"t":0.978,"c200":-0.3,"b600":-0.2,"a1000":-0.18},{"t":0.982,"c200":-0.2,"b600":-0.13,"a1000":-0.115},{"t":0.984,"c200":-0.151,"b600":-0.112,"a1000":-0.1},{"t":0.987,"c200":-0.22,"b600":-0.17,"a1000":-0.16},{"t":0.99,"c200":-0.28,"b600":-0.22,"a1000":-0.2},{"t":0.994,"c200":-0.16,"b600":-0.12,"a1000":-0.11},{"t":0.998,"c200":-0.056,"b600":-0.07,"a1000":-0.07},{"t":1.003,"c200":-0.1,"b600":-0.09,"a1000":-0.08},{"t":1.008,"c200":-0.164,"b600":-0.12,"a1000":-0.1},{"t":1.012,"c200":-0.09,"b600":-0.07,"a1000":-0.06},{"t":1.016,"c200":-0.053,"b600":-0.045,"a1000":-0.04},{"t":1.021,"c200":-0.037,"b600":-0.035,"a1000":-0.03},{"t":1.026,"c200":-0.045,"b600":-0.04,"a1000":-0.035},{"t":1.031,"c200":0.022,"b600":0.012,"a1000":0.008},{"t":1.038,"c200":-0.03,"b600":-0.02,"a1000":-0.016},{"t":1.049,"c200":0.03,"b600":0.024,"a1000":0.02},{"t":1.058,"c200":-0.028,"b600":-0.02,"a1000":-0.016},{"t":1.066,"c200":0.022,"b600":0.018,"a1000":0.016},{"t":1.077,"c200":-0.021,"b600":-0.014,"a1000":-0.012},{"t":1.086,"c200":0.02,"b600":0.014,"a1000":0.012},{"t":1.096,"c200":-0.017,"b600":-0.012,"a1000":-0.01},{"t":1.105,"c200":0.016,"b600":0.012,"a1000":0.01},{"t":1.116,"c200":-0.014,"b600":-0.01,"a1000":-0.008},{"t":1.124,"c200":0.008,"b600":0.008,"a1000":0.007},{"t":1.135,"c200":-0.006,"b600":-0.008,"a1000":-0.007},{"t":1.145,"c200":0.005,"b600":0.008,"a1000":0.007},{"t":1.156,"c200":-0.005,"b600":-0.006,"a1000":-0.006},{"t":1.168,"c200":0.004,"b600":0.004,"a1000":0.004},{"t":1.18,"c200":-0.004,"b600":-0.005,"a1000":-0.004},{"t":1.195,"c200":0.003,"b600":0.003,"a1000":0.003},{"t":1.21,"c200":-0.003,"b600":-0.004,"a1000":-0.003},{"t":1.225,"c200":0.003,"b600":0.003,"a1000":0.002},{"t":1.24,"c200":-0.003,"b600":-0.003,"a1000":-0.002},{"t":1.26,"c200":0.002,"b600":0.002,"a1000":0.002},{"t":1.28,"c200":-0.002,"b600":-0.003,"a1000":-0.002},{"t":1.3,"c200":0.002,"b600":0.002,"a1000":0.002},{"t":1.32,"c200":-0.002,"b600":-0.002,"a1000":-0.002},{"t":1.34,"c200":0.001,"b600":0.002,"a1000":0.001},{"t":1.37,"c200":-0.001,"b600":-0.001,"a1000":-0.001},{"t":1.4,"c200":0,"b600":0,"a1000":0}
    ],
    "d": [
      {"t":0,"c200":0,"b600":0,"a1000":0},{"t":0.3,"c200":0,"b600":0,"a1000":0},{"t":0.308,"c200":0.2,"b600":0.2,"a1000":0.2},{"t":0.316,"c200":-0.3,"b600":-0.3,"a1000":-0.3},{"t":0.324,"c200":0.3,"b600":0.4,"a1000":0.4},{"t":0.332,"c200":-0.4,"b600":-0.4,"a1000":-0.5},{"t":0.34,"c200":0.5,"b600":0.5,"a1000":0.6},{"t":0.348,"c200":-0.5,"b600":-0.6,"a1000":-0.6},{"t":0.356,"c200":0.6,"b600":0.7,"a1000":0.8},{"t":0.364,"c200":-0.6,"b600":-0.8,"a1000":-0.8},{"t":0.372,"c200":0.7,"b600":0.8,"a1000":0.9},{"t":0.38,"c200":-0.8,"b600":-1,"a1000":-1},{"t":0.388,"c200":1,"b600":1.2,"a1000":1.2},{"t":0.396,"c200":-1,"b600":-1.3,"a1000":-1.2},{"t":0.404,"c200":1.2,"b600":1.5,"a1000":1.4},{"t":0.412,"c200":-1.2,"b600":-1.5,"a1000":-1.6},{"t":0.42,"c200":1.4,"b600":1.8,"a1000":1.6},{"t":0.428,"c200":-1.5,"b600":-2,"a1000":-1.8},{"t":0.436,"c200":1.6,"b600":2,"a1000":2},{"t":0.444,"c200":-1.8,"b600":-2.4,"a1000":-2.2},{"t":0.452,"c200":2,"b600":2.5,"a1000":2.4},{"t":0.46,"c200":-2,"b600":-2.6,"a1000":-2.8},{"t":0.468,"c200":2.2,"b600":2.8,"a1000":3},{"t":0.476,"c200":-2.4,"b600":-3.2,"a1000":-3.2},{"t":0.484,"c200":2.6,"b600":3.5,"a1000":3.4},{"t":0.492,"c200":-2.8,"b600":-4,"a1000":-3.8},{"t":0.5,"c200":3,"b600":4.5,"a1000":4.2},
      {"t":0.504,"c200":-3,"b600":-4.8,"a1000":-5},{"t":0.508,"c200":3.5,"b600":5.5,"a1000":5},{"t":0.512,"c200":-3.5,"b600":-6,"a1000":-7},{"t":0.516,"c200":4,"b600":5.6,"a1000":6},{"t":0.52,"c200":-3.8,"b600":-5,"a1000":-5.5},{"t":0.524,"c200":4.2,"b600":4.5,"a1000":5.8},{"t":0.528,"c200":-4,"b600":-5.5,"a1000":-6},{"t":0.532,"c200":5,"b600":4.8,"a1000":5},{"t":0.536,"c200":-5,"b600":-6,"a1000":-7.2},{"t":0.54,"c200":6,"b600":5,"a1000":5.5},{"t":0.544,"c200":-6,"b600":-7,"a1000":-6.5},{"t":0.548,"c200":7,"b600":6,"a1000":6},{"t":0.552,"c200":-8,"b600":-9,"a1000":-10},{"t":0.556,"c200":8,"b600":9,"a1000":10},{"t":0.56,"c200":-10,"b600":-11,"a1000":-9},{"t":0.564,"c200":12,"b600":11,"a1000":10},{"t":0.568,"c200":-12.6,"b600":-13,"a1000":-11},{"t":0.572,"c200":15.3,"b600":14,"a1000":13},{"t":0.576,"c200":-12,"b600":-11,"a1000":-12},{"t":0.58,"c200":10,"b600":12,"a1000":11},{"t":0.584,"c200":-14,"b600":-15,"a1000":-14},{"t":0.588,"c200":13,"b600":14,"a1000":16},{"t":0.592,"c200":-16,"b600":-14,"a1000":-15},{"t":0.596,"c200":14,"b600":16,"a1000":15},{"t":0.6,"c200":-25.5,"b600":-24,"a1000":-23},{"t":0.604,"c200":22.3,"b600":21,"a1000":20},{"t":0.608,"c200":-18,"b600":-20,"a1000":-19},{"t":0.612,"c200":20,"b600":22,"a1000":23.5},{"t":0.616,"c200":-22,"b600":-20,"a1000":-21},{"t":0.62,"c200":18,"b600":20,"a1000":19},{"t":0.624,"c200":-24.6,"b600":-29.2,"a1000":-26},{"t":0.628,"c200":25,"b600":29.3,"a1000":26},{"t":0.632,"c200":-20,"b600":-22,"a1000":-21},{"t":0.636,"c200":18,"b600":19,"a1000":18},{"t":0.64,"c200":-25.2,"b600":-24,"a1000":-23},{"t":0.644,"c200":20,"b600":21,"a1000":20},{"t":0.648,"c200":-18,"b600":-17,"a1000":-18},{"t":0.652,"c200":27.3,"b600":24,"a1000":23},{"t":0.656,"c200":-20,"b600":-21,"a1000":-19},{"t":0.66,"c200":23.8,"b600":22,"a1000":21},{"t":0.664,"c200":-25.2,"b600":-22,"a1000":-21},{"t":0.668,"c200":18,"b600":17,"a1000":16},{"t":0.672,"c200":-20,"b600":-19,"a1000":-18},{"t":0.676,"c200":23,"b600":20,"a1000":19},{"t":0.68,"c200":-26.4,"b600":-24,"a1000":-22},{"t":0.684,"c200":16,"b600":15,"a1000":14},{"t":0.688,"c200":-14,"b600":-15,"a1000":-20},{"t":0.692,"c200":15,"b600":14,"a1000":14},{"t":0.696,"c200":-12,"b600":-13,"a1000":-12},{"t":0.7,"c200":14.2,"b600":13,"a1000":12},{"t":0.704,"c200":-17,"b600":-15,"a1000":-14},{"t":0.708,"c200":10,"b600":11,"a1000":12},{"t":0.712,"c200":-10,"b600":-12,"a1000":-11},{"t":0.716,"c200":11.8,"b600":13,"a1000":12},{"t":0.72,"c200":-9,"b600":-10,"a1000":-11},{"t":0.724,"c200":9,"b600":9,"a1000":10},{"t":0.728,"c200":-13,"b600":-12,"a1000":-11},{"t":0.732,"c200":8,"b600":9,"a1000":9},{"t":0.736,"c200":-8,"b600":-9,"a1000":-10},{"t":0.74,"c200":10,"b600":9,"a1000":8},{"t":0.744,"c200":-7,"b600":-8,"a1000":-8},{"t":0.748,"c200":7,"b600":8,"a1000":7},{"t":0.752,"c200":-6,"b600":-7,"a1000":-8},{"t":0.756,"c200":6,"b600":6,"a1000":7},{"t":0.76,"c200":-6,"b600":-7,"a1000":-6},{"t":0.764,"c200":5,"b600":6,"a1000":7},{"t":0.768,"c200":-5,"b600":-6,"a1000":-6},{"t":0.772,"c200":5,"b600":5,"a1000":6},{"t":0.776,"c200":-5,"b600":-6,"a1000":-6},{"t":0.78,"c200":4,"b600":5,"a1000":5},{"t":0.784,"c200":-4,"b600":-5,"a1000":-6},{"t":0.788,"c200":5,"b600":6,"a1000":5},{"t":0.792,"c200":-4,"b600":-5,"a1000":-5},{"t":0.796,"c200":4,"b600":5,"a1000":6},{"t":0.8,"c200":-5,"b600":-6,"a1000":-5},{"t":0.804,"c200":4,"b600":6,"a1000":5},{"t":0.808,"c200":-4,"b600":-5,"a1000":-6},{"t":0.812,"c200":5,"b600":5,"a1000":6},{"t":0.816,"c200":-5,"b600":-6,"a1000":-6},{"t":0.82,"c200":5,"b600":6,"a1000":7},{"t":0.824,"c200":-6,"b600":-7,"a1000":-6},{"t":0.828,"c200":5,"b600":6,"a1000":7},{"t":0.832,"c200":-6,"b600":-8,"a1000":-8},{"t":0.836,"c200":6,"b600":7,"a1000":8.5},{"t":0.84,"c200":-6,"b600":-7,"a1000":-7},{"t":0.844,"c200":6,"b600":7,"a1000":6},{"t":0.848,"c200":-7,"b600":-8,"a1000":-7},{"t":0.852,"c200":7,"b600":8,"a1000":7},{"t":0.856,"c200":-8,"b600":-9,"a1000":-8},{"t":0.86,"c200":8,"b600":9,"a1000":8},{"t":0.864,"c200":-9,"b600":-10,"a1000":-9},{"t":0.868,"c200":10,"b600":11,"a1000":10},{"t":0.872,"c200":-11,"b600":-12,"a1000":-14},{"t":0.876,"c200":15.8,"b600":14,"a1000":13},{"t":0.88,"c200":-12,"b600":-12,"a1000":-13},{"t":0.884,"c200":14,"b600":15,"a1000":14},{"t":0.888,"c200":-14,"b600":-15,"a1000":-14},{"t":0.892,"c200":22.4,"b600":20,"a1000":19},{"t":0.896,"c200":-13,"b600":-14,"a1000":-12},{"t":0.9,"c200":15,"b600":14,"a1000":15},{"t":0.904,"c200":-15,"b600":-16,"a1000":-17},{"t":0.908,"c200":14,"b600":16,"a1000":15},{"t":0.912,"c200":-18,"b600":-17,"a1000":-16},{"t":0.916,"c200":18,"b600":20,"a1000":19},{"t":0.92,"c200":-26.4,"b600":-24,"a1000":-23},{"t":0.924,"c200":20,"b600":22,"a1000":21},{"t":0.928,"c200":-20,"b600":-22,"a1000":-20},{"t":0.932,"c200":22,"b600":24,"a1000":23},{"t":0.936,"c200":-25,"b600":-28.7,"a1000":-26},{"t":0.94,"c200":26,"b600":29,"a1000":27},{"t":0.944,"c200":-20,"b600":-22,"a1000":-21},{"t":0.948,"c200":27.4,"b600":25,"a1000":24},{"t":0.952,"c200":-25.2,"b600":-23,"a1000":-22},{"t":0.956,"c200":20,"b600":21,"a1000":20},{"t":0.96,"c200":-22,"b600":-20,"a1000":-21},{"t":0.964,"c200":26.7,"b600":24,"a1000":23},{"t":0.968,"c200":-20,"b600":-21,"a1000":-19},{"t":0.972,"c200":18,"b600":17,"a1000":17},{"t":0.976,"c200":-24,"b600":-22,"a1000":-21},{"t":0.98,"c200":20,"b600":19,"a1000":18},{"t":0.984,"c200":-18,"b600":-19,"a1000":-20},{"t":0.988,"c200":22.9,"b600":21,"a1000":20},{"t":0.992,"c200":-20,"b600":-19,"a1000":-18},{"t":0.996,"c200":14,"b600":15,"a1000":14},{"t":1,"c200":-26.2,"b600":-24,"a1000":-22},{"t":1.004,"c200":14,"b600":13,"a1000":14},{"t":1.008,"c200":-14,"b600":-15,"a1000":-16},{"t":1.012,"c200":13,"b600":12,"a1000":14},{"t":1.016,"c200":-12,"b600":-13,"a1000":-12},{"t":1.02,"c200":12,"b600":13,"a1000":11},{"t":1.024,"c200":-14,"b600":-13,"a1000":-12},{"t":1.028,"c200":10,"b600":11,"a1000":12},{"t":1.032,"c200":-10,"b600":-11,"a1000":-12},{"t":1.036,"c200":11,"b600":10,"a1000":10},{"t":1.04,"c200":-9,"b600":-10,"a1000":-11},{"t":1.044,"c200":8,"b600":9,"a1000":9},{"t":1.048,"c200":-9,"b600":-8,"a1000":-9},{"t":1.052,"c200":7,"b600":8,"a1000":7},{"t":1.056,"c200":-7,"b600":-8,"a1000":-8},{"t":1.06,"c200":6,"b600":7,"a1000":7},{"t":1.064,"c200":-6,"b600":-6,"a1000":-7},{"t":1.068,"c200":5,"b600":6,"a1000":6},{"t":1.072,"c200":-5,"b600":-6,"a1000":-6},{"t":1.076,"c200":5,"b600":5,"a1000":5},{"t":1.08,"c200":-5,"b600":-5,"a1000":-6},{"t":1.084,"c200":4,"b600":5,"a1000":5},{"t":1.088,"c200":-4,"b600":-5,"a1000":-4},{"t":1.092,"c200":4,"b600":4,"a1000":5},{"t":1.096,"c200":-4,"b600":-4,"a1000":-5},{"t":1.1,"c200":3,"b600":4,"a1000":4},
      {"t":1.108,"c200":-3,"b600":-4,"a1000":-4},{"t":1.116,"c200":3,"b600":3.5,"a1000":3.5},{"t":1.124,"c200":-3,"b600":-3,"a1000":-3.5},{"t":1.132,"c200":2.5,"b600":3,"a1000":3},{"t":1.14,"c200":-2.5,"b600":-3,"a1000":-3},{"t":1.148,"c200":2,"b600":2.5,"a1000":2.5},{"t":1.156,"c200":-2,"b600":-2.5,"a1000":-2.2},{"t":1.164,"c200":2,"b600":2.2,"a1000":2},{"t":1.172,"c200":-1.8,"b600":-2,"a1000":-2},{"t":1.18,"c200":1.6,"b600":1.8,"a1000":1.8},{"t":1.188,"c200":-1.5,"b600":-1.8,"a1000":-1.6},{"t":1.196,"c200":1.4,"b600":1.6,"a1000":1.5},{"t":1.204,"c200":-1.3,"b600":-1.5,"a1000":-1.4},{"t":1.212,"c200":1.2,"b600":1.4,"a1000":1.3},{"t":1.22,"c200":-1.1,"b600":-1.3,"a1000":-1.2},{"t":1.228,"c200":1,"b600":1.2,"a1000":1.1},{"t":1.236,"c200":-1,"b600":-1.1,"a1000":-1},{"t":1.244,"c200":0.9,"b600":1,"a1000":1},{"t":1.252,"c200":-0.8,"b600":-0.9,"a1000":-0.9},{"t":1.26,"c200":0.8,"b600":0.8,"a1000":0.8},{"t":1.268,"c200":-0.7,"b600":-0.8,"a1000":-0.7},{"t":1.276,"c200":0.6,"b600":0.7,"a1000":0.7},{"t":1.284,"c200":-0.6,"b600":-0.6,"a1000":-0.6},{"t":1.292,"c200":0.5,"b600":0.6,"a1000":0.5},{"t":1.3,"c200":-0.5,"b600":-0.5,"a1000":-0.5},{"t":1.31,"c200":0.4,"b600":0.4,"a1000":0.4},{"t":1.32,"c200":-0.4,"b600":-0.4,"a1000":-0.4},{"t":1.33,"c200":0.3,"b600":0.3,"a1000":0.3},{"t":1.34,"c200":-0.3,"b600":-0.3,"a1000":-0.3},{"t":1.35,"c200":0.3,"b600":0.3,"a1000":0.3},{"t":1.36,"c200":-0.2,"b600":-0.2,"a1000":-0.2},{"t":1.37,"c200":0.2,"b600":0.2,"a1000":0.2},{"t":1.38,"c200":-0.1,"b600":-0.1,"a1000":-0.1},{"t":1.4,"c200":0,"b600":0,"a1000":0}
    ],
    "e": [
      {"t":0,"c200":0,"b600":0,"a1000":0},{"t":0.4,"c200":0,"b600":0,"a1000":0},{"t":0.42,"c200":0.001,"b600":0.001,"a1000":0.001},{"t":0.435,"c200":-0.001,"b600":-0.002,"a1000":-0.002},{"t":0.45,"c200":0.002,"b600":0.002,"a1000":0.001},{"t":0.465,"c200":-0.002,"b600":-0.002,"a1000":-0.003},{"t":0.478,"c200":0.002,"b600":0.003,"a1000":0.002},{"t":0.49,"c200":-0.003,"b600":-0.004,"a1000":-0.004},{"t":0.5,"c200":0.005,"b600":0.004,"a1000":0.003},{"t":0.508,"c200":-0.004,"b600":-0.005,"a1000":-0.006},{"t":0.516,"c200":0.006,"b600":0.005,"a1000":0.004},{"t":0.524,"c200":-0.006,"b600":-0.007,"a1000":-0.008},{"t":0.532,"c200":0.008,"b600":0.007,"a1000":0.006},{"t":0.538,"c200":-0.004,"b600":-0.006,"a1000":-0.008},{"t":0.544,"c200":0.012,"b600":0.01,"a1000":0.009},{"t":0.549,"c200":0.002,"b600":0.004,"a1000":0.002},{"t":0.553,"c200":0.009,"b600":0.01,"a1000":0.008},{"t":0.558,"c200":-0.01,"b600":-0.006,"a1000":-0.005},{"t":0.562,"c200":-0.016,"b600":-0.01,"a1000":-0.008},{"t":0.566,"c200":-0.02,"b600":-0.016,"a1000":-0.014},{"t":0.57,"c200":-0.035,"b600":-0.03,"a1000":-0.028},{"t":0.574,"c200":-0.05,"b600":-0.045,"a1000":-0.04},{"t":0.578,"c200":-0.068,"b600":-0.06,"a1000":-0.055},{"t":0.582,"c200":-0.08,"b600":-0.075,"a1000":-0.07},{"t":0.586,"c200":-0.085,"b600":-0.08,"a1000":-0.075},{"t":0.59,"c200":-0.1,"b600":-0.085,"a1000":-0.066},{"t":0.594,"c200":-0.118,"b600":-0.1,"a1000":-0.09},{"t":0.598,"c200":-0.135,"b600":-0.13,"a1000":-0.13},{"t":0.602,"c200":-0.144,"b600":-0.14,"a1000":-0.14},{"t":0.606,"c200":-0.155,"b600":-0.155,"a1000":-0.155},{"t":0.608,"c200":-0.163,"b600":-0.165,"a1000":-0.165},{"t":0.611,"c200":-0.2,"b600":-0.2,"a1000":-0.2},{"t":0.613,"c200":-0.238,"b600":-0.235,"a1000":-0.23},{"t":0.617,"c200":-0.18,"b600":-0.2,"a1000":-0.22},{"t":0.619,"c200":-0.163,"b600":-0.17,"a1000":-0.18},{"t":0.622,"c200":-0.122,"b600":-0.14,"a1000":-0.16},{"t":0.626,"c200":-0.22,"b600":-0.2,"a1000":-0.19},{"t":0.629,"c200":-0.283,"b600":-0.275,"a1000":-0.26},{"t":0.633,"c200":-0.2,"b600":-0.19,"a1000":-0.18},{"t":0.637,"c200":-0.14,"b600":-0.129,"a1000":-0.135},{"t":0.641,"c200":-0.22,"b600":-0.21,"a1000":-0.2},{"t":0.645,"c200":-0.27,"b600":-0.26,"a1000":-0.25},{"t":0.65,"c200":-0.2,"b600":-0.19,"a1000":-0.18},{"t":0.654,"c200":-0.163,"b600":-0.17,"a1000":-0.17},{"t":0.659,"c200":-0.258,"b600":-0.24,"a1000":-0.23},{"t":0.663,"c200":-0.15,"b600":-0.14,"a1000":-0.13},{"t":0.668,"c200":-0.058,"b600":-0.06,"a1000":-0.065},{"t":0.671,"c200":-0.14,"b600":-0.13,"a1000":-0.12},{"t":0.674,"c200":-0.219,"b600":-0.2,"a1000":-0.19},{"t":0.678,"c200":-0.1,"b600":-0.09,"a1000":-0.085},{"t":0.683,"c200":-0.032,"b600":-0.035,"a1000":-0.035},{"t":0.688,"c200":-0.09,"b600":-0.08,"a1000":-0.075},{"t":0.692,"c200":-0.129,"b600":-0.12,"a1000":-0.11},{"t":0.696,"c200":-0.08,"b600":-0.07,"a1000":-0.065},{"t":0.7,"c200":-0.043,"b600":-0.04,"a1000":-0.04},{"t":0.704,"c200":-0.035,"b600":-0.035,"a1000":-0.035},{"t":0.708,"c200":-0.032,"b600":-0.03,"a1000":-0.03},{"t":0.714,"c200":-0.02,"b600":-0.02,"a1000":-0.02},{"t":0.721,"c200":0.009,"b600":0.01,"a1000":0.008},{"t":0.727,"c200":-0.024,"b600":-0.022,"a1000":-0.02},{"t":0.733,"c200":0.032,"b600":0.03,"a1000":0.028},{"t":0.74,"c200":-0.024,"b600":-0.02,"a1000":-0.018},{"t":0.747,"c200":0.017,"b600":0.016,"a1000":0.014},{"t":0.756,"c200":-0.02,"b600":-0.016,"a1000":-0.014},{"t":0.769,"c200":0.013,"b600":0.012,"a1000":0.01},{"t":0.782,"c200":-0.017,"b600":-0.012,"a1000":-0.01},{"t":0.795,"c200":0.009,"b600":0.01,"a1000":0.01},{"t":0.807,"c200":-0.011,"b600":-0.01,"a1000":-0.01},{"t":0.82,"c200":0.008,"b600":0.01,"a1000":0.011},{"t":0.833,"c200":-0.011,"b600":-0.012,"a1000":-0.013},{"t":0.846,"c200":0.009,"b600":0.012,"a1000":0.013},{"t":0.858,"c200":-0.006,"b600":-0.01,"a1000":-0.012},{"t":0.869,"c200":0.008,"b600":0.012,"a1000":0.016},{"t":0.876,"c200":-0.013,"b600":-0.01,"a1000":-0.008},{"t":0.88,"c200":-0.024,"b600":-0.018,"a1000":-0.015},{"t":0.884,"c200":-0.035,"b600":-0.03,"a1000":-0.028},{"t":0.888,"c200":-0.05,"b600":-0.045,"a1000":-0.04},{"t":0.892,"c200":-0.068,"b600":-0.06,"a1000":-0.055},{"t":0.896,"c200":-0.08,"b600":-0.075,"a1000":-0.07},{"t":0.9,"c200":-0.085,"b600":-0.08,"a1000":-0.075},{"t":0.904,"c200":-0.1,"b600":-0.085,"a1000":-0.066},{"t":0.908,"c200":-0.118,"b600":-0.1,"a1000":-0.09},{"t":0.912,"c200":-0.135,"b600":-0.13,"a1000":-0.13},{"t":0.916,"c200":-0.144,"b600":-0.14,"a1000":-0.14},{"t":0.92,"c200":-0.155,"b600":-0.155,"a1000":-0.155},{"t":0.922,"c200":-0.163,"b600":-0.165,"a1000":-0.165},{"t":0.925,"c200":-0.2,"b600":-0.2,"a1000":-0.2},{"t":0.927,"c200":-0.238,"b600":-0.235,"a1000":-0.23},{"t":0.931,"c200":-0.18,"b600":-0.2,"a1000":-0.22},{"t":0.933,"c200":-0.163,"b600":-0.17,"a1000":-0.18},{"t":0.936,"c200":-0.122,"b600":-0.14,"a1000":-0.16},{"t":0.94,"c200":-0.22,"b600":-0.2,"a1000":-0.19},{"t":0.943,"c200":-0.283,"b600":-0.275,"a1000":-0.26},{"t":0.947,"c200":-0.2,"b600":-0.19,"a1000":-0.18},{"t":0.951,"c200":-0.14,"b600":-0.129,"a1000":-0.135},{"t":0.955,"c200":-0.22,"b600":-0.21,"a1000":-0.2},{"t":0.959,"c200":-0.27,"b600":-0.26,"a1000":-0.25},{"t":0.964,"c200":-0.2,"b600":-0.19,"a1000":-0.18},{"t":0.968,"c200":-0.163,"b600":-0.17,"a1000":-0.17},{"t":0.973,"c200":-0.258,"b600":-0.24,"a1000":-0.23},{"t":0.977,"c200":-0.15,"b600":-0.14,"a1000":-0.13},{"t":0.982,"c200":-0.058,"b600":-0.06,"a1000":-0.065},{"t":0.985,"c200":-0.14,"b600":-0.13,"a1000":-0.12},{"t":0.988,"c200":-0.219,"b600":-0.2,"a1000":-0.19},{"t":0.992,"c200":-0.1,"b600":-0.09,"a1000":-0.085},{"t":0.997,"c200":-0.032,"b600":-0.035,"a1000":-0.035},{"t":1.002,"c200":-0.09,"b600":-0.08,"a1000":-0.075},{"t":1.006,"c200":-0.129,"b600":-0.12,"a1000":-0.11},{"t":1.01,"c200":-0.08,"b600":-0.07,"a1000":-0.065},{"t":1.014,"c200":-0.043,"b600":-0.04,"a1000":-0.04},{"t":1.018,"c200":-0.035,"b600":-0.035,"a1000":-0.035},{"t":1.022,"c200":-0.03,"b600":-0.03,"a1000":-0.03},{"t":1.029,"c200":0.025,"b600":0.028,"a1000":0.026},{"t":1.038,"c200":-0.024,"b600":-0.02,"a1000":-0.018},{"t":1.046,"c200":0.036,"b600":0.033,"a1000":0.03},{"t":1.055,"c200":-0.017,"b600":-0.016,"a1000":-0.014},{"t":1.064,"c200":0.025,"b600":0.02,"a1000":0.018},{"t":1.075,"c200":-0.013,"b600":-0.012,"a1000":-0.01},{"t":1.086,"c200":0.015,"b600":0.012,"a1000":0.01},{"t":1.102,"c200":-0.011,"b600":-0.01,"a1000":-0.01},{"t":1.118,"c200":0.009,"b600":0.008,"a1000":0.007},{"t":1.134,"c200":-0.006,"b600":-0.006,"a1000":-0.008},{"t":1.156,"c200":0.005,"b600":0.005,"a1000":0.004},{"t":1.177,"c200":-0.004,"b600":-0.004,"a1000":-0.004},{"t":1.2,"c200":0.003,"b600":0.003,"a1000":0.002},{"t":1.22,"c200":-0.003,"b600":-0.003,"a1000":-0.002},{"t":1.24,"c200":0.002,"b600":0.003,"a1000":0.002},{"t":1.26,"c200":-0.002,"b600":-0.002,"a1000":-0.002},{"t":1.29,"c200":0.002,"b600":0.001,"a1000":0.001},{"t":1.32,"c200":-0.002,"b600":-0.002,"a1000":-0.001},{"t":1.35,"c200":0.001,"b600":0.001,"a1000":0.001},{"t":1.4,"c200":0,"b600":0,"a1000":0}
    ],
    "f": [
      {"t":0,"c200":0,"b600":0,"a1000":0},{"t":0.3,"c200":0,"b600":0,"a1000":0},{"t":0.34,"c200":0.1,"b600":0.1,"a1000":0.1},{"t":0.36,"c200":-0.15,"b600":-0.15,"a1000":-0.2},{"t":0.38,"c200":0.2,"b600":0.25,"a1000":0.3},{"t":0.395,"c200":-0.3,"b600":-0.35,"a1000":-0.4},{"t":0.41,"c200":0.4,"b600":0.5,"a1000":0.5},{"t":0.422,"c200":-0.5,"b600":-0.6,"a1000":-0.7},{"t":0.434,"c200":0.6,"b600":0.7,"a1000":0.8},{"t":0.446,"c200":-0.7,"b600":-0.9,"a1000":-1},{"t":0.456,"c200":0.8,"b600":1,"a1000":1.2},{"t":0.466,"c200":-0.8,"b600":-1.2,"a1000":-1.4},{"t":0.476,"c200":1,"b600":1.3,"a1000":1.5},{"t":0.486,"c200":-1,"b600":-1.5,"a1000":-1.8},{"t":0.495,"c200":1.2,"b600":1.6,"a1000":2},{"t":0.504,"c200":-1.4,"b600":-2,"a1000":-2.5},{"t":0.512,"c200":1.5,"b600":2,"a1000":2.4},{"t":0.52,"c200":-1.6,"b600":-2.5,"a1000":-3.2},{"t":0.528,"c200":1.8,"b600":2.5,"a1000":2.8},{"t":0.535,"c200":-2,"b600":-2.8,"a1000":-3},{"t":0.542,"c200":2.2,"b600":2.8,"a1000":3.2},{"t":0.549,"c200":-3,"b600":-4,"a1000":-4.5},{"t":0.556,"c200":2.5,"b600":4.2,"a1000":4.5},{"t":0.562,"c200":-4,"b600":-5.7,"a1000":-6},{"t":0.569,"c200":3,"b600":10,"a1000":11.3},{"t":0.575,"c200":-5,"b600":-6.8,"a1000":-9.9},{"t":0.582,"c200":2.8,"b600":4,"a1000":5.2},{"t":0.588,"c200":-3.5,"b600":-5,"a1000":-4},{"t":0.594,"c200":3,"b600":7,"a1000":5},{"t":0.6,"c200":-5.7,"b600":-8,"a1000":-9.6},{"t":0.606,"c200":4,"b600":6.9,"a1000":7.2},{"t":0.61,"c200":-4,"b600":-10,"a1000":-9},{"t":0.614,"c200":16.1,"b600":16.3,"a1000":17.9},{"t":0.621,"c200":-16.5,"b600":-18.4,"a1000":-19.8},{"t":0.628,"c200":14.8,"b600":17.2,"a1000":19.1},{"t":0.637,"c200":-12.1,"b600":-14.5,"a1000":-18.4},{"t":0.646,"c200":13,"b600":12.7,"a1000":10.6},{"t":0.652,"c200":-13,"b600":-13.6,"a1000":-11},{"t":0.659,"c200":17.3,"b600":15.7,"a1000":17.6},{"t":0.667,"c200":-19,"b600":-13.8,"a1000":-14.5},{"t":0.674,"c200":17,"b600":8.8,"a1000":8},{"t":0.68,"c200":-10.9,"b600":-10.6,"a1000":-10},{"t":0.686,"c200":5.8,"b600":8.8,"a1000":7},{"t":0.692,"c200":-6,"b600":-7,"a1000":-8.3},{"t":0.698,"c200":7.3,"b600":5,"a1000":6},{"t":0.704,"c200":-5,"b600":-6,"a1000":-5},{"t":0.711,"c200":5,"b600":7.3,"a1000":8.8},{"t":0.717,"c200":-5,"b600":-9.6,"a1000":-6},{"t":0.723,"c200":4,"b600":5,"a1000":4.9},{"t":0.729,"c200":-4,"b600":-5,"a1000":-8.4},{"t":0.736,"c200":3.5,"b600":4,"a1000":4},{"t":0.743,"c200":-3,"b600":-4,"a1000":-4.5},{"t":0.75,"c200":3,"b600":3.5,"a1000":4},{"t":0.757,"c200":-2.5,"b600":-3.5,"a1000":-4},{"t":0.764,"c200":2.5,"b600":3,"a1000":3.5},{"t":0.771,"c200":-2.5,"b600":-3,"a1000":-3.5},{"t":0.778,"c200":2,"b600":2.5,"a1000":3},{"t":0.785,"c200":-2.5,"b600":-3,"a1000":-4},{"t":0.792,"c200":2.5,"b600":3,"a1000":3.5},{"t":0.799,"c200":-2,"b600":-3,"a1000":-3.5},{"t":0.806,"c200":2.5,"b600":3,"a1000":4},{"t":0.813,"c200":-2.5,"b600":-3.5,"a1000":-4},{"t":0.82,"c200":2.5,"b600":3,"a1000":4},{"t":0.827,"c200":-3,"b600":-3.5,"a1000":-4},{"t":0.834,"c200":3,"b600":3.5,"a1000":4.5},{"t":0.841,"c200":-3,"b600":-4,"a1000":-4},{"t":0.848,"c200":3.5,"b600":4,"a1000":4},{"t":0.855,"c200":-3.5,"b600":-4.5,"a1000":-4.5},{"t":0.861,"c200":3,"b600":4,"a1000":4},{"t":0.867,"c200":-4,"b600":-5,"a1000":-5},{"t":0.873,"c200":4,"b600":5,"a1000":5},{"t":0.879,"c200":-5,"b600":-6.5,"a1000":-6.5},{"t":0.884,"c200":3,"b600":9.8,"a1000":11.6},{"t":0.89,"c200":-5,"b600":-7,"a1000":-10},{"t":0.896,"c200":3,"b600":5.7,"a1000":5},{"t":0.902,"c200":-5,"b600":-10.2,"a1000":-8},{"t":0.908,"c200":4,"b600":7.9,"a1000":6},{"t":0.914,"c200":-6,"b600":-8,"a1000":-9.7},{"t":0.92,"c200":5,"b600":7,"a1000":8},{"t":0.925,"c200":-4,"b600":-6,"a1000":-7},{"t":0.929,"c200":15.8,"b600":16.3,"a1000":18.1},{"t":0.936,"c200":-16.5,"b600":-18.1,"a1000":-19.9},{"t":0.942,"c200":14.5,"b600":16.9,"a1000":18.8},{"t":0.951,"c200":-12.3,"b600":-14.7,"a1000":-18.3},{"t":0.961,"c200":12.8,"b600":12.5,"a1000":10.5},{"t":0.967,"c200":-11.2,"b600":-13.3,"a1000":-10},{"t":0.974,"c200":17.3,"b600":15.5,"a1000":14},{"t":0.982,"c200":-19.2,"b600":-13.6,"a1000":-15},{"t":0.989,"c200":17,"b600":10,"a1000":8},{"t":0.995,"c200":-11.1,"b600":-11,"a1000":-9},{"t":1.001,"c200":7.3,"b600":7.2,"a1000":6},{"t":1.007,"c200":-6,"b600":-8.1,"a1000":-8.7},{"t":1.013,"c200":5,"b600":6,"a1000":7},{"t":1.019,"c200":-5,"b600":-6,"a1000":-5},{"t":1.025,"c200":4,"b600":6,"a1000":9},{"t":1.031,"c200":-5,"b600":-9.9,"a1000":-6},{"t":1.037,"c200":4,"b600":7.2,"a1000":5},{"t":1.043,"c200":-4,"b600":-5,"a1000":-8.7},{"t":1.049,"c200":3.5,"b600":4,"a1000":4.9},{"t":1.056,"c200":-3.5,"b600":-4,"a1000":-4.5},{"t":1.063,"c200":3,"b600":3.5,"a1000":4},{"t":1.07,"c200":-3,"b600":-3.5,"a1000":-4},{"t":1.077,"c200":2.5,"b600":3,"a1000":3.5},{"t":1.084,"c200":-2.5,"b600":-3,"a1000":-3.5},{"t":1.092,"c200":2,"b600":2.5,"a1000":3},{"t":1.1,"c200":-2,"b600":-2.5,"a1000":-3},{"t":1.108,"c200":1.8,"b600":2,"a1000":2.5},{"t":1.116,"c200":-1.8,"b600":-2,"a1000":-2.5},{"t":1.124,"c200":1.5,"b600":1.8,"a1000":2.2},{"t":1.133,"c200":-1.5,"b600":-1.8,"a1000":-2},{"t":1.142,"c200":1.2,"b600":1.5,"a1000":1.8},{"t":1.151,"c200":-1.2,"b600":-1.4,"a1000":-1.6},{"t":1.16,"c200":1,"b600":1.2,"a1000":1.4},{"t":1.17,"c200":-1,"b600":-1.2,"a1000":-1.3},{"t":1.18,"c200":0.9,"b600":1,"a1000":1.2},{"t":1.19,"c200":-0.9,"b600":-1,"a1000":-1.1},{"t":1.2,"c200":0.8,"b600":0.9,"a1000":1},{"t":1.212,"c200":-0.8,"b600":-0.9,"a1000":-0.9},{"t":1.224,"c200":0.7,"b600":0.8,"a1000":0.8},{"t":1.236,"c200":-0.7,"b600":-0.8,"a1000":-0.8},{"t":1.248,"c200":0.6,"b600":0.7,"a1000":0.7},{"t":1.26,"c200":-0.6,"b600":-0.6,"a1000":-0.6},{"t":1.272,"c200":0.5,"b600":0.5,"a1000":0.5},{"t":1.285,"c200":-0.5,"b600":-0.5,"a1000":-0.5},{"t":1.298,"c200":0.4,"b600":0.4,"a1000":0.4},{"t":1.312,"c200":-0.4,"b600":-0.4,"a1000":-0.4},{"t":1.326,"c200":0.3,"b600":0.3,"a1000":0.3},{"t":1.34,"c200":-0.3,"b600":-0.3,"a1000":-0.3},{"t":1.355,"c200":0.2,"b600":0.2,"a1000":0.2},{"t":1.37,"c200":-0.2,"b600":-0.2,"a1000":-0.2},{"t":1.385,"c200":0.1,"b600":0.1,"a1000":0.1},{"t":1.4,"c200":0,"b600":0,"a1000":0}
    ]
  },
  "layer": [
    {
      "layer": [
        {
          "data": {"name": "a"},
          "transform": [{"fold": ["a1000", "b600", "c200"]}],
          "mark": {"type": "line", "strokeWidth": 4.5, "strokeJoin": "round", "strokeCap": "round"},
          "encoding": {
            "x": {"field": "t", "type": "quantitative", "scale": {"domain": [0, 1.4], "range": [164, 1322], "nice": false},
              "axis": {"orient": "bottom", "offset": -1068, "title": "Time (s)", "titleX": 743, "titleY": 141, "values": [0,0.1,0.2,0.3,0.4,0.5,0.6,0.7,0.8,0.9,1,1.1,1.2,1.3,1.4],
                "labelExpr": "round(datum.value*10) % 2 == 0 ? (datum.value == 0 ? '0' : format(datum.value, '.1f')) : ''",
                "tickSize": {"condition": {"test": "round(datum.value*10) % 2 == 0", "value": -15}, "value": -8}}},
            "y": {"field": "value", "type": "quantitative", "scale": {"domain": [-1.2, 0.1], "range": [708, 19], "nice": false, "zero": false},
              "axis": {"orient": "left", "offset": -164, "title": "Rail displacement (mm)", "titleX": -107, "titleY": 364, "values": [-1.2,-1,-0.8,-0.6,-0.4,-0.2,0],
                "labelExpr": "round(datum.value*10) % 4 == 0 ? '' + datum.value : ''",
                "tickSize": {"condition": {"test": "round(datum.value*10) % 4 == 0", "value": -15}, "value": -8}}},
            "color": {"field": "key", "type": "nominal", "scale": {"domain": ["c200", "b600", "a1000"], "range": ["#1b6fde", "#ee3e3b", "#4b4b4b"]},
              "legend": {"title": null, "orient": "none", "legendX": 251, "legendY": 461,
                "labelExpr": "datum.label == 'c200' ? '200 MPa/m' : datum.label == 'b600' ? '600 MPa/m' : '1000 MPa/m'"}}
          }
        },
        {
          "data": {"values": [{}]},
          "mark": {"type": "rect", "filled": false, "stroke": "#000000", "strokeWidth": 4},
          "encoding": {
            "x": {"datum": 0, "type": "quantitative", "scale": {"domain": [0, 1.4], "range": [164, 1322], "nice": false},
              "axis": {"orient": "bottom", "offset": -1068, "domain": false, "ticks": false, "labels": false, "title": "(a)", "titleX": 58, "titleY": 125, "titleAlign": "left", "titleFontSize": 64, "titleFontWeight": "normal"}},
            "x2": {"datum": 1.4},
            "y": {"datum": -1.2, "type": "quantitative", "scale": {"domain": [-1.2, 0.1], "range": [708, 19], "nice": false, "zero": false}, "axis": null},
            "y2": {"datum": 0.1}
          }
        }
      ],
      "resolve": {"scale": {"x": "independent", "y": "independent"}, "axis": {"x": "independent", "y": "independent"}}
    },
    {
      "layer": [
        {
          "data": {"name": "b"},
          "transform": [{"fold": ["a1000", "b600", "c200"]}],
          "mark": {"type": "line", "strokeWidth": 5.5, "strokeJoin": "round", "strokeCap": "round"},
          "encoding": {
            "x": {"field": "t", "type": "quantitative", "scale": {"domain": [0, 1.4], "range": [1544, 2683], "nice": false},
              "axis": {"orient": "bottom", "offset": -1075, "title": "Time (s)", "titleX": 2114, "titleY": 140, "values": [0,0.1,0.2,0.3,0.4,0.5,0.6,0.7,0.8,0.9,1,1.1,1.2,1.3,1.4],
                "labelExpr": "round(datum.value*10) % 2 == 0 ? (datum.value == 0 ? '0' : format(datum.value, '.1f')) : ''",
                "tickSize": {"condition": {"test": "round(datum.value*10) % 2 == 0", "value": -15}, "value": -8}}},
            "y": {"field": "value", "type": "quantitative", "scale": {"domain": [-600, 700], "range": [701, 23], "nice": false, "zero": false},
              "axis": {"orient": "left", "offset": -1544, "title": "Rail acceleration (m/s²)", "titleX": -126, "titleY": 362, "values": [-600,-500,-400,-300,-200,-100,0,100,200,300,400,500,600],
                "labelExpr": "datum.value % 200 == 0 ? '' + datum.value : ''",
                "tickSize": {"condition": {"test": "datum.value % 200 == 0", "value": -15}, "value": -8}}},
            "color": {"field": "key", "type": "nominal", "scale": {"domain": ["c200", "b600", "a1000"], "range": ["#1b6fde", "#ee3e3b", "#4b4b4b"]},
              "legend": {"title": null, "orient": "none", "legendX": 1609, "legendY": 509,
                "labelExpr": "datum.label == 'c200' ? '200MPa/m' : datum.label == 'b600' ? '600MPa/m' : '1000MPa/m'"}}
          }
        },
        {
          "data": {"values": [{}]},
          "mark": {"type": "rect", "filled": false, "stroke": "#000000", "strokeWidth": 4},
          "encoding": {
            "x": {"datum": 0, "type": "quantitative", "scale": {"domain": [0, 1.4], "range": [1544, 2683], "nice": false},
              "axis": {"orient": "bottom", "offset": -1075, "domain": false, "ticks": false, "labels": false, "title": "(b)", "titleX": 1415, "titleY": 128, "titleAlign": "left", "titleFontSize": 64, "titleFontWeight": "normal"}},
            "x2": {"datum": 1.4},
            "y": {"datum": -600, "type": "quantitative", "scale": {"domain": [-600, 700], "range": [701, 23], "nice": false, "zero": false}, "axis": null},
            "y2": {"datum": 700}
          }
        }
      ],
      "resolve": {"scale": {"x": "independent", "y": "independent"}, "axis": {"x": "independent", "y": "independent"}}
    },
    {
      "layer": [
        {
          "data": {"name": "c"},
          "transform": [{"fold": ["a1000", "b600", "c200"]}],
          "mark": {"type": "line", "strokeWidth": 4.5, "strokeJoin": "round", "strokeCap": "round"},
          "encoding": {
            "x": {"field": "t", "type": "quantitative", "scale": {"domain": [0, 1.4], "range": [2883, 4039], "nice": false},
              "axis": {"orient": "bottom", "offset": -1052, "title": "Time (s)", "titleX": 3461, "titleY": 140, "values": [0,0.1,0.2,0.3,0.4,0.5,0.6,0.7,0.8,0.9,1,1.1,1.2,1.3,1.4],
                "labelExpr": "round(datum.value*10) % 2 == 0 ? (datum.value == 0 ? '0' : format(datum.value, '.1f')) : ''",
                "tickSize": {"condition": {"test": "round(datum.value*10) % 2 == 0", "value": -15}, "value": -8}}},
            "y": {"field": "value", "type": "quantitative", "scale": {"domain": [-0.45, 0.1], "range": [724, 33], "nice": false, "zero": false},
              "axis": {"orient": "left", "offset": -2883, "title": "Track slab displacement (mm)", "titleX": -109, "titleY": 376, "values": [-0.4,-0.35,-0.3,-0.25,-0.2,-0.15,-0.1,-0.05,0,0.05,0.1],
                "labelExpr": "round(datum.value*100) % 10 == 0 ? '' + datum.value : ''",
                "tickSize": {"condition": {"test": "round(datum.value*100) % 10 == 0", "value": -15}, "value": -8}}},
            "color": {"field": "key", "type": "nominal", "scale": {"domain": ["c200", "b600", "a1000"], "range": ["#1b6fde", "#ee3e3b", "#4b4b4b"]},
              "legend": {"title": null, "orient": "none", "legendX": 2952, "legendY": 516,
                "labelExpr": "datum.label == 'c200' ? '200 MPa/m' : datum.label == 'b600' ? '600 MPa/m' : '1000 MPa/m'"}}
          }
        },
        {
          "data": {"values": [{}]},
          "mark": {"type": "rect", "filled": false, "stroke": "#000000", "strokeWidth": 4},
          "encoding": {
            "x": {"datum": 0, "type": "quantitative", "scale": {"domain": [0, 1.4], "range": [2883, 4039], "nice": false},
              "axis": {"orient": "bottom", "offset": -1052, "domain": false, "ticks": false, "labels": false, "title": "(c)", "titleX": 2774, "titleY": 126, "titleAlign": "left", "titleFontSize": 64, "titleFontWeight": "normal"}},
            "x2": {"datum": 1.4},
            "y": {"datum": -0.45, "type": "quantitative", "scale": {"domain": [-0.45, 0.1], "range": [724, 33], "nice": false, "zero": false}, "axis": null},
            "y2": {"datum": 0.1}
          }
        }
      ],
      "resolve": {"scale": {"x": "independent", "y": "independent"}, "axis": {"x": "independent", "y": "independent"}}
    },
    {
      "layer": [
        {
          "data": {"name": "d"},
          "transform": [{"fold": ["a1000", "b600", "c200"]}],
          "mark": {"type": "line", "strokeWidth": 5.5, "strokeJoin": "round", "strokeCap": "round"},
          "encoding": {
            "x": {"field": "t", "type": "quantitative", "scale": {"domain": [0, 1.4], "range": [164, 1321], "nice": false},
              "axis": {"orient": "bottom", "offset": -163, "title": "Time (s)", "titleX": 743, "titleY": 139, "values": [0,0.1,0.2,0.3,0.4,0.5,0.6,0.7,0.8,0.9,1,1.1,1.2,1.3,1.4],
                "labelExpr": "round(datum.value*10) % 2 == 0 ? (datum.value == 0 ? '0' : format(datum.value, '.1f')) : ''",
                "tickSize": {"condition": {"test": "round(datum.value*10) % 2 == 0", "value": -15}, "value": -8}}},
            "y": {"field": "value", "type": "quantitative", "scale": {"domain": [-35, 35], "range": [1613, 921], "nice": false, "zero": false},
              "axis": {"orient": "left", "offset": -164, "title": "Track slab acceleration (m/s²)", "titleX": -103, "titleY": 1267, "values": [-30,-25,-20,-15,-10,-5,0,5,10,15,20,25,30],
                "labelExpr": "datum.value % 10 == 0 ? '' + datum.value : ''",
                "tickSize": {"condition": {"test": "datum.value % 10 == 0", "value": -15}, "value": -8}}},
            "color": {"field": "key", "type": "nominal", "scale": {"domain": ["c200", "b600", "a1000"], "range": ["#1b6fde", "#ee3e3b", "#4b4b4b"]},
              "legend": {"title": null, "orient": "none", "legendX": 228, "legendY": 1399,
                "labelExpr": "datum.label == 'c200' ? '200MPa/m' : datum.label == 'b600' ? '600MPa/m' : '1000MPa/m'"}}
          }
        },
        {
          "data": {"values": [{}]},
          "mark": {"type": "rect", "filled": false, "stroke": "#000000", "strokeWidth": 4},
          "encoding": {
            "x": {"datum": 0, "type": "quantitative", "scale": {"domain": [0, 1.4], "range": [164, 1321], "nice": false},
              "axis": {"orient": "bottom", "offset": -163, "domain": false, "ticks": false, "labels": false, "title": "(d)", "titleX": 58, "titleY": 129, "titleAlign": "left", "titleFontSize": 64, "titleFontWeight": "normal"}},
            "x2": {"datum": 1.4},
            "y": {"datum": -35, "type": "quantitative", "scale": {"domain": [-35, 35], "range": [1613, 921], "nice": false, "zero": false}, "axis": null},
            "y2": {"datum": 35}
          }
        }
      ],
      "resolve": {"scale": {"x": "independent", "y": "independent"}, "axis": {"x": "independent", "y": "independent"}}
    },
    {
      "layer": [
        {
          "data": {"name": "e"},
          "transform": [{"fold": ["a1000", "b600", "c200"]}],
          "mark": {"type": "line", "strokeWidth": 4.5, "strokeJoin": "round", "strokeCap": "round"},
          "encoding": {
            "x": {"field": "t", "type": "quantitative", "scale": {"domain": [0, 1.4], "range": [1526, 2681], "nice": false},
              "axis": {"orient": "bottom", "offset": -149, "title": "Time (s)", "titleX": 2104, "titleY": 137, "values": [0,0.1,0.2,0.3,0.4,0.5,0.6,0.7,0.8,0.9,1,1.1,1.2,1.3,1.4],
                "labelExpr": "round(datum.value*10) % 2 == 0 ? (datum.value == 0 ? '0' : format(datum.value, '.1f')) : ''",
                "tickSize": {"condition": {"test": "round(datum.value*10) % 2 == 0", "value": -15}, "value": -8}}},
            "y": {"field": "value", "type": "quantitative", "scale": {"domain": [-0.35, 0.1], "range": [1627, 936], "nice": false, "zero": false},
              "axis": {"orient": "left", "offset": -1526, "title": "Base plate displacement (mm)", "titleX": -112, "titleY": 1282, "values": [-0.3,-0.25,-0.2,-0.15,-0.1,-0.05,0,0.05,0.1],
                "labelExpr": "round(datum.value*100) % 10 == 0 ? '' + datum.value : ''",
                "tickSize": {"condition": {"test": "round(datum.value*100) % 10 == 0", "value": -15}, "value": -8}}},
            "color": {"field": "key", "type": "nominal", "scale": {"domain": ["c200", "b600", "a1000"], "range": ["#1b6fde", "#ee3e3b", "#4b4b4b"]},
              "legend": {"title": null, "orient": "none", "legendX": 1606, "legendY": 1403,
                "labelExpr": "datum.label == 'c200' ? '200 MPa/m' : datum.label == 'b600' ? '600 MPa/m' : '1000 MPa/m'"}}
          }
        },
        {
          "data": {"values": [{}]},
          "mark": {"type": "rect", "filled": false, "stroke": "#000000", "strokeWidth": 4},
          "encoding": {
            "x": {"datum": 0, "type": "quantitative", "scale": {"domain": [0, 1.4], "range": [1526, 2681], "nice": false},
              "axis": {"orient": "bottom", "offset": -149, "domain": false, "ticks": false, "labels": false, "title": "(e)", "titleX": 1415, "titleY": 129, "titleAlign": "left", "titleFontSize": 64, "titleFontWeight": "normal"}},
            "x2": {"datum": 1.4},
            "y": {"datum": -0.35, "type": "quantitative", "scale": {"domain": [-0.35, 0.1], "range": [1627, 936], "nice": false, "zero": false}, "axis": null},
            "y2": {"datum": 0.1}
          }
        }
      ],
      "resolve": {"scale": {"x": "independent", "y": "independent"}, "axis": {"x": "independent", "y": "independent"}}
    },
    {
      "layer": [
        {
          "data": {"name": "f"},
          "transform": [{"fold": ["a1000", "b600", "c200"]}],
          "mark": {"type": "line", "strokeWidth": 4.5, "strokeJoin": "round", "strokeCap": "round"},
          "encoding": {
            "x": {"field": "t", "type": "quantitative", "scale": {"domain": [0, 1.4], "range": [2881, 4039], "nice": false},
              "axis": {"orient": "bottom", "offset": -164, "title": "Time (s)", "titleX": 3460, "titleY": 140, "values": [0,0.1,0.2,0.3,0.4,0.5,0.6,0.7,0.8,0.9,1,1.1,1.2,1.3,1.4],
                "labelExpr": "round(datum.value*10) % 2 == 0 ? (datum.value == 0 ? '0' : format(datum.value, '.1f')) : ''",
                "tickSize": {"condition": {"test": "round(datum.value*10) % 2 == 0", "value": -15}, "value": -8}}},
            "y": {"field": "value", "type": "quantitative", "scale": {"domain": [-25, 25], "range": [1612, 919], "nice": false, "zero": false},
              "axis": {"orient": "left", "offset": -2881, "title": "Base plateacceleration (m/s²)", "titleX": -104, "titleY": 1266, "values": [-20,-15,-10,-5,0,5,10,15,20],
                "labelExpr": "datum.value % 10 == 0 ? '' + datum.value : ''",
                "tickSize": {"condition": {"test": "datum.value % 10 == 0", "value": -15}, "value": -8}}},
            "color": {"field": "key", "type": "nominal", "scale": {"domain": ["c200", "b600", "a1000"], "range": ["#1b6fde", "#ee3e3b", "#4b4b4b"]},
              "legend": {"title": null, "orient": "none", "legendX": 2950, "legendY": 1406,
                "labelExpr": "datum.label == 'c200' ? '200MPa/m' : datum.label == 'b600' ? '600MPa/m' : '1000MPa/m'"}}
          }
        },
        {
          "data": {"values": [{}]},
          "mark": {"type": "rect", "filled": false, "stroke": "#000000", "strokeWidth": 4},
          "encoding": {
            "x": {"datum": 0, "type": "quantitative", "scale": {"domain": [0, 1.4], "range": [2881, 4039], "nice": false},
              "axis": {"orient": "bottom", "offset": -164, "domain": false, "ticks": false, "labels": false, "title": "(f)", "titleX": 2774, "titleY": 135, "titleAlign": "left", "titleFontSize": 64, "titleFontWeight": "normal"}},
            "x2": {"datum": 1.4},
            "y": {"datum": -25, "type": "quantitative", "scale": {"domain": [-25, 25], "range": [1612, 919], "nice": false, "zero": false}, "axis": null},
            "y2": {"datum": 25}
          }
        }
      ],
      "resolve": {"scale": {"x": "independent", "y": "independent"}, "axis": {"x": "independent", "y": "independent"}}
    }
  ],
  "resolve": {"scale": {"x": "independent", "y": "independent", "color": "independent"}, "axis": {"x": "independent", "y": "independent"}, "legend": {"color": "independent"}}
}
